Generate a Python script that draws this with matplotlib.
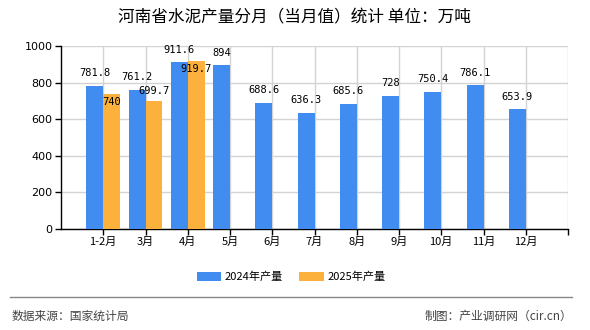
import matplotlib
matplotlib.use("Agg")
import matplotlib.pyplot as plt
from matplotlib.patches import Patch
import numpy as np

plt.rcParams['font.family'] = ['Noto Sans CJK SC', 'DejaVu Sans']

categories = ["1-2月", "3月", "4月", "5月", "6月", "7月", "8月", "9月", "10月", "11月", "12月"]
values_2024 = [781.8, 761.2, 911.6, 894, 688.6, 636.3, 685.6, 728, 750.4, 786.1, 653.9]
values_2025 = [740, 699.7, 919.7]
labels_2024 = ["781.8", "761.2", "911.6", "894", "688.6", "636.3", "685.6", "728", "750.4", "786.1", "653.9"]
labels_2025 = ["740", "699.7", "919.7"]
series_names = ["2024年产量", "2025年产量"]
yticks = [0, 200, 400, 600, 800, 1000]

blue = "#418CF0"
orange = "#FBB13C"

fig = plt.figure(figsize=(5.9, 3.3), dpi=100)
ax = fig.add_axes([61/590, 101/330, 507/590, 183/330])

x = np.arange(len(categories))
w = 0.4
ax.bar(x[:len(values_2024)] - w/2, values_2024, width=w, color=blue, zorder=3)
ax.bar(x[:len(values_2025)] + w/2, values_2025, width=w, color=orange, zorder=3)

lab_font = dict(family=['DejaVu Sans Mono'], fontsize=7.5, color='black')
for xi, v, t in zip(x, values_2024, labels_2024):
    ax.annotate(t, (xi - w/2, v), xytext=(0, 9), textcoords='offset points',
                ha='center', va='center', zorder=5, **lab_font)
orange_offsets = [-6, 7, -6]
for xi, v, t, off in zip(x, values_2025, labels_2025, orange_offsets):
    ax.annotate(t, (xi + w/2, v), xytext=(0, off), textcoords='offset points',
                ha='center', va='center', zorder=5, **lab_font)

ax.set_xlim(-1, len(categories))
ax.set_ylim(0, 1000)
ax.set_yticks(yticks)
ax.set_yticklabels([str(t) for t in yticks], fontsize=8, family=['DejaVu Sans'])
ax.set_xticks(x)
ax.set_xticklabels(categories, fontsize=8)
ax.set_xticks([len(categories)], minor=True)

ax.grid(True, axis='both', color='#D3D3D3', linewidth=1, zorder=0)
ax.axvline(len(categories), color='#D3D3D3', linewidth=1, zorder=0)

for s in ['top', 'right']:
    ax.spines[s].set_visible(False)
ax.spines['left'].set_color('black')
ax.spines['bottom'].set_color('black')
ax.spines['left'].set_linewidth(1)
ax.spines['bottom'].set_linewidth(1)
ax.tick_params(axis='both', which='both', length=4, width=1, color='black', pad=2)

fig.text(294/590, 1 - 18/330, "河南省水泥产量分月（当月值）统计 单位：万吨", ha='center', va='center',
         fontsize=12)

handles = [Patch(facecolor=blue), Patch(facecolor=orange)]
fig.legend(handles, series_names, loc='center', bbox_to_anchor=(291/590, 1 - 277/330), ncol=2,
           frameon=False, fontsize=8, handlelength=2.2, handleheight=0.8, columnspacing=1.5,
           handletextpad=0.3)

fig.add_artist(plt.Line2D([10/590, 572/590], [1 - 297/330, 1 - 297/330], color='#888888', linewidth=1))
fig.text(12/590, 1 - 316/330, "数据来源：国家统计局", ha='left', va='center', fontsize=8.5, color='#444444')
fig.text(572/590, 1 - 316/330, "制图：产业调研网（cir.cn）", ha='right', va='center', fontsize=8.5, color='#444444')

fig.savefig("out.png", dpi=100)
